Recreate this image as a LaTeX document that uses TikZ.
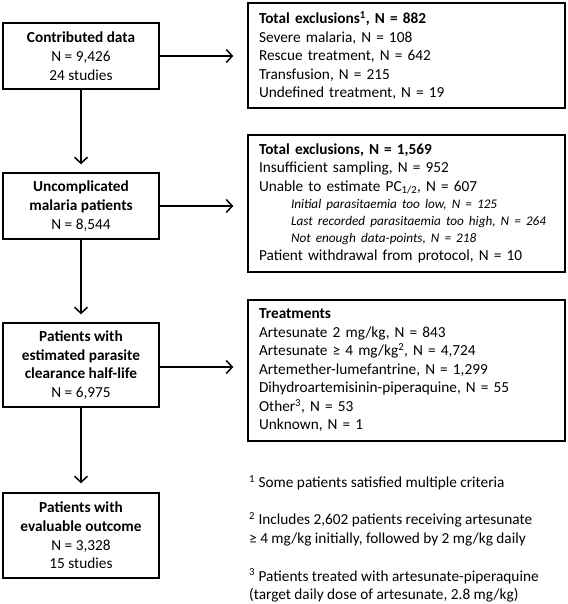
\documentclass[tikz,border=0pt]{standalone}
\usepackage{fontspec}
\setmainfont{Carlito}
\usetikzlibrary{arrows.meta}

\tikzset{
  flowbox/.style={draw, line width=1.5pt, align=center, inner sep=0pt,
    minimum width=156pt, font=\fontsize{15.3pt}{18.7pt}\selectfont},
  listbox/.style={draw, line width=1.5pt, align=left, inner xsep=11pt, inner ysep=0pt,
    text width=295pt, font=\fontsize{15.3pt}{18.5pt}\selectfont},
  note/.style={anchor=west, align=left, inner sep=0pt, font=\fontsize{15.3pt}{18.5pt}\selectfont},
  arr/.style={line width=1.5pt, -{Straight Barb[length=6pt,width=13pt,line width=1.5pt]}}
}
\newcommand{\subline}[1]{\hspace*{32pt}\mbox{\itshape\fontsize{13.2pt}{16.5pt}\selectfont #1}}

\begin{document}
\begin{tikzpicture}

			% Fix the page size
			\useasboundingbox (0,0) rectangle (567pt,-604pt);

			% Flow boxes on the left
			\node[flowbox, minimum height=66pt] (contrib) at (81pt,-56pt)
				{\textbf{Contributed data}\\N = 9,426\\24 studies};
			\node[flowbox, minimum height=66pt] (uncompl) at (81pt,-206pt)
				{\textbf{Uncomplicated}\\\textbf{malaria patients}\\N = 8,544};
			\node[flowbox, minimum height=84pt] (halflife) at (81pt,-365pt)
				{\textbf{Patients with}\\\textbf{estimated parasite}\\\textbf{clearance half-life}\\N = 6,975};
			\node[flowbox, minimum height=85pt] (outcome) at (81pt,-535.5pt)
				{\textbf{Patients with}\\\textbf{evaluable outcome}\\N = 3,328\\15 studies};

			% Boxes on the right
			\node[listbox, minimum height=105pt] (excl1) at (406.5pt,-55.5pt)
				{\textbf{Total exclusions\textsuperscript{1}, N = 882}\\
				Severe malaria, N = 108\\
				Rescue treatment, N = 642\\
				Transfusion, N = 215\\
				Undefined treatment, N = 19};
			\node[listbox, minimum height=137pt] (excl2) at (406.5pt,-203.5pt)
				{\textbf{Total exclusions, N = 1,569}\\
				Insufficient sampling, N = 952\\
				Unable to estimate PC\textsubscript{1/2}, N = 607\\[-1pt]
				\subline{Initial parasitaemia too low, N = 125}\\[-1.5pt]
				\subline{Last recorded parasitaemia too high, N = 264}\\[-2pt]
				\subline{Not enough data-points, N = 218}\\
				Patient withdrawal from protocol, N = 10};
			\node[listbox, minimum height=141pt] (treat) at (406.5pt,-370.5pt)
				{\textbf{Treatments}\\
				Artesunate 2 mg/kg, N = 843\\
				Artesunate ≥ 4 mg/kg\textsuperscript{2}, N = 4,724\\
				Artemether-lumefantrine, N = 1,299\\
				Dihydroartemisinin-piperaquine,  N = 55\\
				Other\textsuperscript{3}, N = 53\\
				Unknown, N = 1};

			% Footnotes
			\node[note] (fn1) at (249pt,-483pt)
				{\textsuperscript{1} Some patients satisfied multiple criteria};
			\node[note] (fn2) at (249pt,-529pt)
				{\textsuperscript{2} Includes 2,602 patients receiving artesunate\\≥ 4 mg/kg initially, followed by 2 mg/kg daily};
			\node[note] (fn3) at (249pt,-585.5pt)
				{\textsuperscript{3} Patients treated with artesunate-piperaquine\\(target daily dose of artesunate, 2.8 mg/kg)};

			% Downward arrows
			\draw[arr, shorten >=8pt] (contrib) -- (uncompl);
			\draw[arr, shorten >=8pt] (uncompl) -- (halflife);
			\draw[arr, shorten >=9pt] (halflife) -- (outcome);

			% Arrows to the right
			\draw[arr, shorten >=14pt] (contrib.east) -- (contrib.east -| excl1.west);
			\draw[arr, shorten >=14pt] (uncompl.east) -- (uncompl.east -| excl2.west);
			\draw[arr, shorten >=14pt] ([yshift=-2pt]halflife.east) -- ([yshift=-2pt]halflife.east -| treat.west);

\end{tikzpicture}
\end{document}
